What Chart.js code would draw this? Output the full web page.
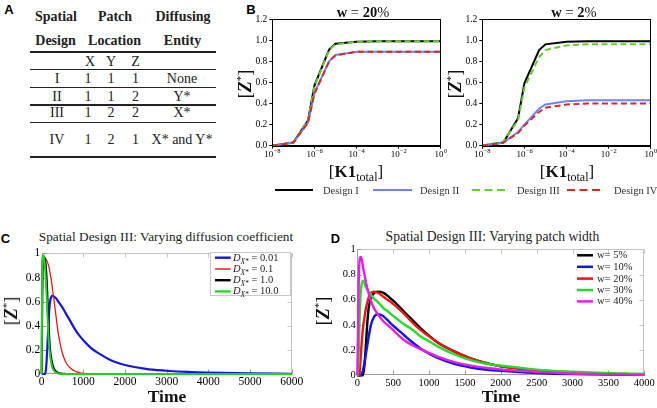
<!DOCTYPE html>
<html><head><meta charset="utf-8">
<script src="https://cdn.jsdelivr.net/npm/chart.js@4.4.0/dist/chart.umd.min.js"></script>
<style>
html,body{margin:0;padding:0;background:#fff;}
#wrap{position:relative;width:657px;height:408px;overflow:hidden;background:#fff;font-family:'Liberation Serif','Times New Roman',serif;color:#111;}
.t{position:absolute;white-space:nowrap;transform:translate(-50%,-50%);line-height:1;}
.tl{position:absolute;white-space:nowrap;transform:translate(0,-50%);line-height:1;}
.lbl{font-family:'Liberation Sans',Arial,sans-serif;font-weight:bold;font-size:13px;color:#000;}
.rule{position:absolute;background:#222;}
canvas{position:absolute;}
sub,sup{line-height:0;}
</style></head>
<body><div id="wrap"></div>
<script>
// ================= DATA =================
// Panel A table
const tableHeader1 = ['Spatial', 'Patch', 'Diffusing'];
const tableHeader2 = ['Design', 'Location', 'Entity'];
const patchAxes = ['X', 'Y', 'Z'];
const designs = ['I', 'II', 'III', 'IV'];
const patchX = ['1', '1', '1', '1'];
const patchY = ['1', '1', '2', '2'];
const patchZ = ['1', '2', '2', '1'];
const diffusing = ['None', 'Y*', 'X*', 'X* and Y*'];

// Panel B: steady state [Z*] vs [K1_total]
const bTitles = ['20', '2'];
const designNames = ['Design I', 'Design II', 'Design III', 'Design IV'];
const bK1 = [1e-8, 1e-7, 5e-7, 1e-6, 5e-6, 1e-5, 1e-4, 1e-3, 1e-2, 1e-1, 1];
const bTicks = [1e-8, 1e-6, 1e-4, 1e-2, 1];
const bW20_I   = [0, 0.03, 0.24, 0.57, 0.91, 0.965, 0.985, 0.99, 0.99, 0.99, 0.99];
const bW20_II  = [0, 0.03, 0.22, 0.50, 0.80, 0.86, 0.89, 0.89, 0.89, 0.89, 0.89];
const bW20_III = [0, 0.03, 0.24, 0.56, 0.905, 0.96, 0.985, 0.99, 0.99, 0.99, 0.99];
const bW20_IV  = [0, 0.03, 0.22, 0.49, 0.80, 0.855, 0.89, 0.89, 0.89, 0.89, 0.89];
const bW2_I    = [0, 0.03, 0.26, 0.59, 0.906, 0.96, 0.985, 0.99, 0.99, 0.99, 0.99];
const bW2_II   = [0, 0.03, 0.13, 0.20, 0.35, 0.39, 0.42, 0.43, 0.43, 0.43, 0.43];
const bW2_III  = [0, 0.04, 0.24, 0.55, 0.84, 0.906, 0.95, 0.96, 0.96, 0.96, 0.96];
const bW2_IV   = [0, 0.03, 0.12, 0.19, 0.32, 0.36, 0.39, 0.40, 0.40, 0.40, 0.40];

// Panel C: varying diffusion coefficient
const cTitle = 'Spatial Design III: Varying diffusion coefficient';
const cLabels = ['0.01', '0.1', '1.0', '10.0'];
const cTime = [0,10,20,30,40,50,60,80,100,120,140,160,180,200,230,260,300,350,400,450,500,550,600,700,800,900,1000,1200,1400,1600,1800,2000,2500,3000,3500,4000,5000,6000];
const cD001 = [0,0,0,0,0,0,0,0.005,0.03,0.12,0.26,0.40,0.52,0.60,0.64,0.65,0.64,0.625,0.60,0.575,0.55,0.52,0.49,0.43,0.37,0.32,0.28,0.21,0.165,0.125,0.095,0.075,0.042,0.027,0.017,0.011,0.005,0.002];
const cD01  = [0,0.45,0.8,0.92,0.95,0.96,0.965,0.965,0.955,0.94,0.925,0.905,0.88,0.84,0.78,0.7,0.6,0.46,0.33,0.24,0.17,0.12,0.085,0.045,0.023,0.012,0.006,0.002,0.001,0,0,0,0,0,0,0,0,0];
const cD1   = [0,0.55,0.9,0.96,0.975,0.975,0.965,0.94,0.88,0.77,0.6,0.43,0.3,0.2,0.125,0.075,0.04,0.018,0.008,0.004,0.002,0.001,0,0,0,0,0,0,0,0,0,0,0,0,0,0,0,0];
const cD10  = [0,0.75,0.96,0.985,0.985,0.975,0.95,0.88,0.78,0.64,0.48,0.33,0.23,0.16,0.09,0.05,0.025,0.01,0.005,0.002,0.001,0,0,0,0,0,0,0,0,0,0,0,0,0,0,0,0,0];

// Panel D: varying patch width
const dTitle = 'Spatial Design III: Varying patch width';
const dLabels = ['5%', '10%', '20%', '30%', '40%'];
const dTime = [0,10,20,30,40,50,60,80,100,120,140,160,190,230,280,330,370,420,460,560,650,750,880,1000,1120,1350,1580,1810,2000,2200,2500,3000,3500,4000];
const dW5  = [0,0,0,0,0,0,0,0,0.08,0.24,0.42,0.54,0.615,0.65,0.664,0.662,0.652,0.632,0.612,0.56,0.505,0.45,0.375,0.315,0.26,0.19,0.135,0.095,0.072,0.058,0.037,0.02,0.01,0.005];
const dW10 = [0,0,0,0,0,0,0.01,0.04,0.1,0.17,0.24,0.31,0.40,0.46,0.484,0.48,0.466,0.44,0.415,0.365,0.32,0.27,0.213,0.172,0.138,0.09,0.062,0.044,0.035,0.027,0.018,0.009,0.005,0.003];
const dW20 = [0,0,0,0,0.08,0.17,0.25,0.38,0.46,0.53,0.58,0.62,0.655,0.664,0.656,0.64,0.62,0.6,0.585,0.537,0.49,0.43,0.36,0.31,0.26,0.19,0.135,0.095,0.072,0.057,0.04,0.022,0.012,0.006];
const dW30 = [0,0,0.2,0.42,0.58,0.67,0.72,0.75,0.735,0.70,0.68,0.66,0.64,0.61,0.585,0.555,0.53,0.51,0.49,0.445,0.405,0.37,0.31,0.27,0.23,0.167,0.12,0.09,0.077,0.065,0.045,0.028,0.017,0.01];
const dW40 = [0,0.35,0.75,0.9,0.935,0.94,0.925,0.86,0.8,0.74,0.69,0.645,0.59,0.535,0.49,0.45,0.425,0.40,0.38,0.325,0.28,0.245,0.208,0.178,0.148,0.105,0.077,0.058,0.047,0.037,0.027,0.014,0.008,0.004];

// ================= PAGE =================
const wrap = document.getElementById('wrap');
function txt(html, x, y, style, cls) {
  const d = document.createElement('div');
  d.className = cls || 't';
  d.innerHTML = html;
  d.style.left = x + 'px'; d.style.top = y + 'px';
  if (style) d.style.cssText += style;
  wrap.appendChild(d); return d;
}
function rule(x1, x2, y, h) {
  const d = document.createElement('div');
  d.className = 'rule';
  d.style.left = x1 + 'px'; d.style.width = (x2 - x1) + 'px';
  d.style.top = (y - h / 2) + 'px'; d.style.height = h + 'px';
  wrap.appendChild(d);
}
function canvasAt(left, top, w, h) {
  const c = document.createElement('canvas');
  c.width = w; c.height = h;
  c.style.left = left + 'px'; c.style.top = top + 'px';
  c.style.width = w + 'px'; c.style.height = h + 'px';
  wrap.appendChild(c); return c;
}

// ---- Panel A: table ----
txt('A', 9, 8.5, '', 't lbl');
const hs = 'font-size:14px;font-weight:bold;color:#222;';
const bs = 'font-size:14px;color:#222;';
[56, 115, 183].forEach((x, i) => txt(tableHeader1[i], x, 17, hs));
[55.5, 114.5, 182.5].forEach((x, i) => txt(tableHeader2[i], x, 41, hs));
rule(30, 216, 52, 2);
[90, 111, 135.5].forEach((x, i) => txt(patchAxes[i], x, 62, bs));
rule(30, 216, 69.3, 1.3);
const rowY = [79, 96.7, 113.3, 140];
const ruleY = [87.7, 105, 122.3];
designs.forEach((d, i) => {
  const y = rowY[i];
  txt(d, 57, y, bs);
  txt(patchX[i], 88, y, bs);
  txt(patchY[i], 111, y, bs);
  txt(patchZ[i], 135.5, y, bs);
  txt(diffusing[i], 182, y, bs);
  if (i < ruleY.length) rule(30, 216, ruleY[i], 1.3);
});
rule(30, 216, 157.3, 2);

// ---- common chart settings ----
const SERIF = "'Liberation Serif','Times New Roman',serif";
Chart.defaults.font.family = SERIF;
Chart.defaults.color = '#000';
const pts = (xs, ys) => xs.map((x, i) => ({x: x, y: ys[i]}));

const frameBox = {
  id: 'frameBox',
  afterDatasetsDraw(chart) {
    const {ctx, chartArea: a} = chart;
    ctx.save(); ctx.strokeStyle = '#000'; ctx.lineWidth = 1;
    ctx.strokeRect(Math.round(a.left) + 0.5, Math.round(a.top) + 0.5, Math.round(a.right - a.left), Math.round(a.bottom - a.top));
    ctx.restore();
  }
};
// log-axis tick labels drawn as "10" with a raised exponent, at the scale's own tick pixels
const powLabels = {
  id: 'powLabels',
  afterDraw(chart) {
    const {ctx, chartArea: a, scales: {x}} = chart;
    ctx.save(); ctx.fillStyle = '#000'; ctx.textBaseline = 'alphabetic'; ctx.textAlign = 'left';
    x.ticks.forEach(t => {
      const p = x.getPixelForValue(t.value);
      const e = String(Math.round(Math.log10(t.value))).replace('-', '\u2212');
      ctx.font = '9px ' + SERIF; const w1 = ctx.measureText('10').width;
      ctx.font = '6.5px ' + SERIF; const w2 = ctx.measureText(e).width;
      const x0 = p - (w1 + w2) / 2;
      ctx.font = '9px ' + SERIF; ctx.fillText('10', x0, a.bottom + 11.5);
      ctx.font = '6.5px ' + SERIF; ctx.fillText(e, x0 + w1 + 0.3, a.bottom + 7.5);
    });
    ctx.restore();
  }
};
const frameMath = {
  id: 'frameMath',
  beforeDatasetsDraw(chart) {
    const {ctx, chartArea: a, scales: {x, y}} = chart;
    const L = Math.round(a.left) + 0.5, R = Math.round(a.right) - 0.5, T = Math.round(a.top) + 0.5, B = Math.round(a.bottom) - 0.5;
    ctx.save(); ctx.lineWidth = 1;
    ctx.strokeStyle = '#c4c4c4';
    ctx.beginPath(); ctx.moveTo(L, T); ctx.lineTo(R, T); ctx.lineTo(R, B); ctx.stroke();
    x.ticks.forEach(t => { const p = Math.round(x.getPixelForValue(t.value)) + 0.5; ctx.beginPath(); ctx.moveTo(p, T); ctx.lineTo(p, T + 4); ctx.stroke(); });
    y.ticks.forEach(t => { const p = Math.round(y.getPixelForValue(t.value)) + 0.5; ctx.beginPath(); ctx.moveTo(R, p); ctx.lineTo(R - 4, p); ctx.stroke(); });
    ctx.strokeStyle = '#9a9a9a';
    ctx.beginPath(); ctx.moveTo(L, T); ctx.lineTo(L, B); ctx.lineTo(R, B); ctx.stroke();
    x.ticks.forEach(t => { const p = Math.round(x.getPixelForValue(t.value)) + 0.5; ctx.beginPath(); ctx.moveTo(p, B); ctx.lineTo(p, B - 4); ctx.stroke(); });
    y.ticks.forEach(t => { const p = Math.round(y.getPixelForValue(t.value)) + 0.5; ctx.beginPath(); ctx.moveTo(L, p); ctx.lineTo(L + 4, p); ctx.stroke(); });
    ctx.restore();
  }
};

// ---- Panel B ----
txt('B', 251, 8.5, '', 't lbl');
const bColors = ['#000000', '#7383ee', '#66cc33', '#d42a2a'];
const bDash = [[], [], [6, 3.5], [6, 3.5]];
const bOrder = [4, 3, 2, 1];
function bChart(left, width, rightPad, series) {
  const cv = canvasAt(left, 0, width, 165);
  return new Chart(cv, {
    type: 'line',
    data: {
      datasets: series.map((s, i) => ({
        label: designNames[i], data: pts(bK1, s), borderColor: bColors[i], backgroundColor: bColors[i],
        borderWidth: 2, borderDash: bDash[i], pointRadius: 0, tension: 0, fill: false, clip: false, order: bOrder[i]
      }))
    },
    options: {
      responsive: false, animation: false, devicePixelRatio: 1,
      layout: {padding: {left: 0, top: 19, right: rightPad, bottom: 0}},
      plugins: {legend: {display: false}, tooltip: {enabled: false}},
      scales: {
        x: {
          type: 'logarithmic', min: 1e-8, max: 1,
          afterFit: s => { s.height = 19.3; },
          afterBuildTicks: s => { s.ticks = bTicks.map(v => ({value: v, major: true})); },
          ticks: {display: false, autoSkip: false, maxRotation: 0},
          grid: {drawOnChartArea: false, drawTicks: true, tickLength: 3, color: '#000'},
          border: {display: true, color: '#000'}
        },
        y: {
          min: 0, max: 1.2,
          afterFit: s => { s.width = 22.3; },
          ticks: {stepSize: 0.2, padding: 2, font: {size: 9.5}, color: '#000', callback: v => Number(v).toFixed(1)},
          grid: {drawOnChartArea: false, drawTicks: true, tickLength: 3, color: '#000'},
          border: {display: true, color: '#000'}
        }
      }
    },
    plugins: [frameBox, powLabels]
  });
}
bChart(250, 200, 9.3, [bW20_I, bW20_II, bW20_III, bW20_IV]);
bChart(460, 197, 6.3, [bW2_I, bW2_II, bW2_III, bW2_IV]);
txt('<b>w</b> = <b>' + bTitles[0] + '</b>%', 363, 12, 'font-size:14.5px;color:#111;');
txt('<b>w</b> = <b>' + bTitles[1] + '</b>%', 574, 12, 'font-size:14.5px;color:#111;');
const zLabel = '[<b><i>Z</i></b><sup style="font-size:11px">*</sup>]';
const kLabel = '[<b>K1</b><sub style="font-size:12px">total</sub>]';
txt(zLabel, 245, 84, 'font-size:18px;transform:translate(-50%,-50%) rotate(-90deg);');
txt(zLabel, 455, 84, 'font-size:18px;transform:translate(-50%,-50%) rotate(-90deg);');
txt(kLabel, 356, 171, 'font-size:17px;');
txt(kLabel, 567, 171, 'font-size:17px;');
const bLegX = [[275, 313, 323], [373, 412, 420], [472, 505, 517], [567, 603, 614]];
designNames.forEach((n, i) => txt(n, bLegX[i][2], 190.5, 'font-size:10.5px;color:#333;', 'tl'));

// ---- Panel C ----
txt('C', 5.5, 238, '', 't lbl');
txt(cTitle, 166, 236.5, 'font-size:13.3px;color:#222;');
const cColors = ['#1414e6', '#e01c1c', '#000000', '#1ed21e'];
const cWidths = [2.2, 1.3, 2.2, 2.0];
const cSeries = [cD001, cD01, cD1, cD10];
function mathChart(left, top, w, h, pad, xMax, xStep, times, series, colors, widths, names, fontSize) {
  const cv = canvasAt(left, top, w, h);
  return new Chart(cv, {
    type: 'line',
    data: {
      datasets: series.map((s, i) => ({
        label: names[i], data: pts(times, s), borderColor: colors[i], backgroundColor: colors[i],
        borderWidth: widths[i], pointRadius: 0, cubicInterpolationMode: 'monotone', fill: false, clip: false,
        order: series.length - i
      }))
    },
    options: {
      responsive: false, animation: false, devicePixelRatio: 1,
      layout: {padding: {left: 0, top: pad.t, right: pad.r, bottom: 0}},
      plugins: {legend: {display: false}, tooltip: {enabled: false}},
      scales: {
        x: {
          type: 'linear', min: 0, max: xMax,
          afterFit: s => { s.height = pad.b; },
          ticks: {stepSize: xStep, autoSkip: false, maxRotation: 0, padding: 1.5, font: {size: fontSize}, color: '#000',
            callback: v => String(Math.round(v))},
          grid: {display: false, drawTicks: false}, border: {display: false}
        },
        y: {
          min: 0, max: 1,
          afterFit: s => { s.width = pad.l; },
          ticks: {stepSize: 0.2, padding: 1.5, font: {size: fontSize}, color: '#000',
            callback: v => (Math.abs(v) < 1e-9 ? '0' : (Math.abs(v - 1) < 1e-9 ? '1' : Number(v).toFixed(1)))},
          grid: {display: false, drawTicks: false}, border: {display: false}
        }
      }
    },
    plugins: [frameMath]
  });
}
mathChart(20, 245, 290, 150, {l: 21.7, t: 8.3, r: 18.3, b: 21}, 6000, 1000, cTime, cSeries, cColors, cWidths, cLabels, 11.5);
txt(zLabel, 11, 311, 'font-size:18px;transform:translate(-50%,-50%) rotate(-90deg);');
txt('<b>Time</b>', 167, 397, 'font-size:17.5px;');
// legend C frame
const cLegBox = document.createElement('div');
cLegBox.style.cssText = 'position:absolute;left:210px;top:252px;width:81px;height:44px;border:1px solid #c8c8c8;background:#fff;box-sizing:border-box;';
wrap.appendChild(cLegBox);
const cLegY = [257.7, 269, 280.2, 291.4];

// ---- Panel D ----
txt('D', 335.5, 238, '', 't lbl');
txt(dTitle, 492.5, 236.5, 'font-size:13.6px;color:#222;');
const dColors = ['#000000', '#1414e6', '#ee1414', '#22dd22', '#e61ee6'];
const dWidths = [2.4, 2.4, 2.4, 2.4, 2.4];
const dSeries = [dW5, dW10, dW20, dW30, dW40];
mathChart(335, 240, 322, 155, {l: 22.3, t: 9.3, r: 12.7, b: 19.7}, 4000, 500, dTime, dSeries, dColors, dWidths, dLabels, 10.5);
txt(zLabel, 323, 311, 'font-size:18px;transform:translate(-50%,-50%) rotate(-90deg);');
txt('<b>Time</b>', 501, 397, 'font-size:17.5px;');
const dLegY = [255.3, 266.8, 278.6, 290, 301.4];

// ---- legend swatches (SVG overlay) ----
const NS = 'http://www.w3.org/2000/svg';
const svg = document.createElementNS(NS, 'svg');
svg.setAttribute('width', 657); svg.setAttribute('height', 408);
svg.style.cssText = 'position:absolute;left:0;top:0;pointer-events:none;';
function sw(x1, x2, y, color, w, dash) {
  const l = document.createElementNS(NS, 'line');
  l.setAttribute('x1', x1); l.setAttribute('x2', x2); l.setAttribute('y1', y); l.setAttribute('y2', y);
  l.setAttribute('stroke', color); l.setAttribute('stroke-width', w);
  if (dash) l.setAttribute('stroke-dasharray', dash);
  svg.appendChild(l);
}
bLegX.forEach((p, i) => sw(p[0], p[1], 190, bColors[i], 2.2, bDash[i].length ? '8 4.5' : null));
cLegY.forEach((y, i) => sw(215, 230.7, y, cColors[i], cWidths[i] + 0.2, null));
dLegY.forEach((y, i) => sw(577, 593, y, dColors[i], 2.5, null));
wrap.appendChild(svg);
cLabels.forEach((v, i) => txt('<i>D</i><sub style="font-size:7.5px"><i>X</i>*</sub> = ' + v, 233, cLegY[i], 'font-size:10.5px;color:#222;', 'tl'));
dLabels.forEach((v, i) => txt('w= ' + v, 597, dLegY[i], 'font-size:10.5px;color:#222;', 'tl'));
</script>
</body></html>
